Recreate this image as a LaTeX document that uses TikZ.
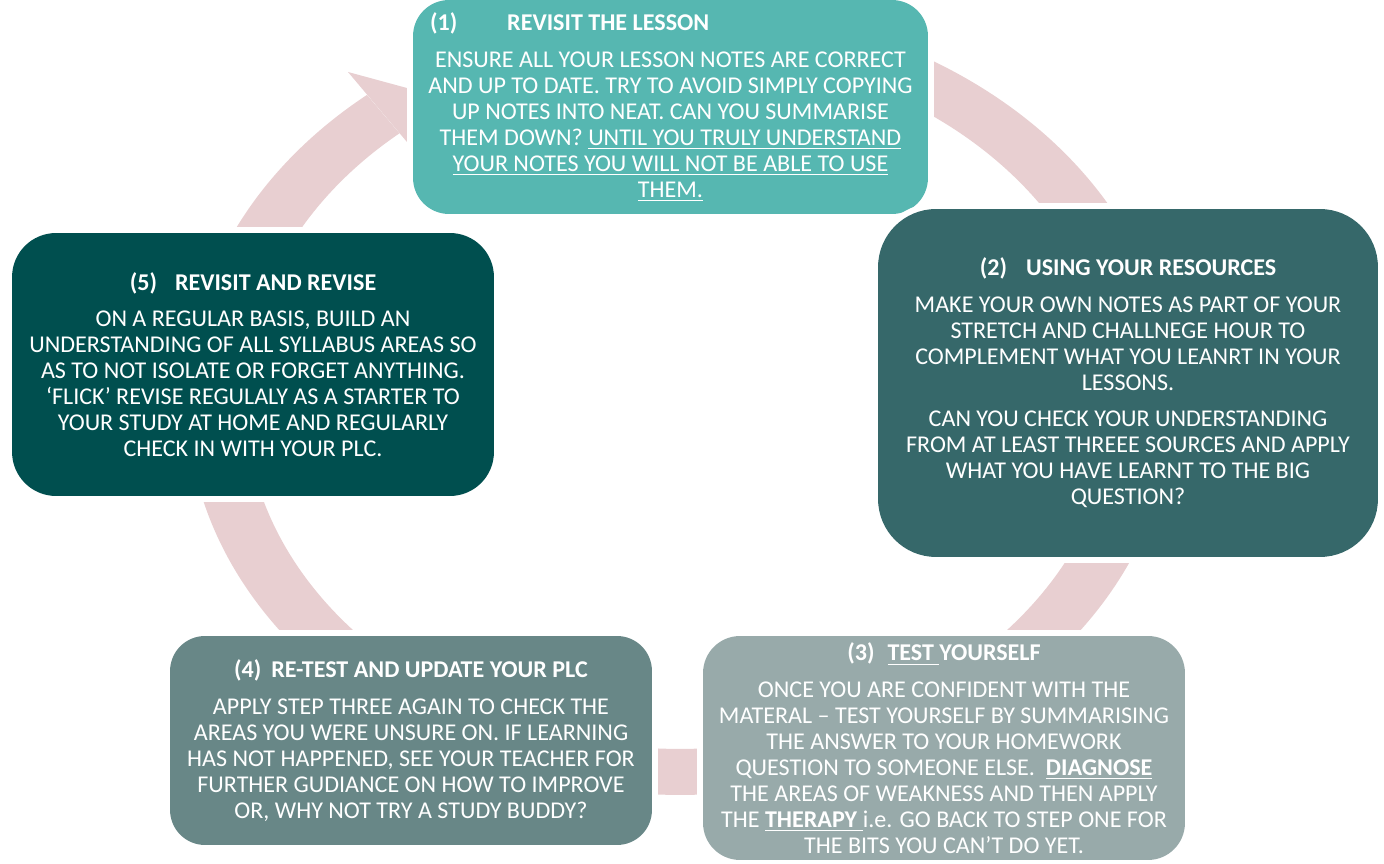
\documentclass[tikz,border=0pt]{standalone}
\usepackage{fontspec}
\setmainfont{Carlito}
\newsavebox{\ulbox}
\newcommand{\myul}[1]{\sbox{\ulbox}{#1}\rlap{\rule[-2.4pt]{\wd\ulbox}{0.6pt}}\usebox{\ulbox}}
\definecolor{cA}{HTML}{56B7B1}
\definecolor{cB}{HTML}{36686A}
\definecolor{cC}{HTML}{98AAAA}
\definecolor{cD}{HTML}{688787}
\definecolor{cE}{HTML}{004F4F}
\definecolor{ringc}{HTML}{E8CFD1}
\begin{document}
\begin{tikzpicture}[x=0.02cm,y=-0.02cm,
  box/.style={rectangle, inner sep=0pt, text=white, align=center,
    font=\fontsize{13.7}{14.8}\selectfont,
    preaction={draw=white, line width=0.24cm}}]
\useasboundingbox (0,0) rectangle (1384,864);
% cycle ring
\fill[ringc, even odd rule] (680,400) ellipse [x radius=9.86cm, y radius=7.9cm]
                             (680,400) ellipse [x radius=8.7cm, y radius=6.98cm];
\fill[white] (270,-20) -- (420,157.4) -- (680,157.4) -- (680,-20) -- cycle;
\fill[ringc] (348,72) -- (440,97) -- (407,142) -- cycle;
% boxes
\node[box, fill=cA, rounded corners=0.72cm, minimum width=10.3cm, minimum height=4.28cm] (b1) at (670.5,107)
{\makebox[9.62cm][l]{\textbf{(1)\hspace{1.0cm}REVISIT THE LESSON}}\\[6pt]
ENSURE ALL YOUR LESSON NOTES ARE CORRECT\\
AND UP TO DATE. TRY TO AVOID SIMPLY COPYING\\
UP NOTES INTO NEAT. CAN YOU SUMMARISE\\
THEM DOWN? \myul{UNTIL YOU TRULY UNDERSTAND}\\
\myul{YOUR NOTES YOU WILL NOT BE ABLE TO USE}\\
\myul{THEM.}};
\node[box, fill=cB, rounded corners=1.16cm, minimum width=10cm, minimum height=6.96cm] (b2) at (1128,383)
{\textbf{(2)\hspace{0.38cm}USING YOUR RESOURCES}\\[6pt]
MAKE YOUR OWN NOTES AS PART OF YOUR\\
STRETCH AND CHALLNEGE HOUR TO\\
COMPLEMENT WHAT YOU LEANRT IN YOUR\\
LESSONS.\\[6pt]
CAN YOU CHECK YOUR UNDERSTANDING\\
FROM AT LEAST THREEE SOURCES AND APPLY\\
WHAT YOU HAVE LEARNT TO THE BIG\\
QUESTION?};
\node[box, fill=cC, rounded corners=0.74cm, minimum width=9.64cm, minimum height=4.48cm] (b3) at (944,748)
{\textbf{(3)\hspace{0.26cm}\myul{TEST }YOURSELF}\\[6pt]
ONCE YOU ARE CONFIDENT WITH THE\\
MATERAL – TEST YOURSELF BY SUMMARISING\\
THE ANSWER TO YOUR HOMEWORK\\
QUESTION TO SOMEONE ELSE.\ \ \myul{\textbf{DIAGNOSE}}\\
THE AREAS OF WEAKNESS AND THEN APPLY\\
THE \myul{\textbf{THERAPY }}i.e. GO BACK TO STEP ONE FOR\\
THE BITS YOU CAN’T DO YET.};
\node[box, fill=cD, rounded corners=0.7cm, minimum width=9.64cm, minimum height=4.18cm] (b4) at (411,740.5)
{\textbf{(4)\hspace{0.2cm}RE-TEST AND UPDATE YOUR PLC}\\[6pt]
APPLY STEP THREE AGAIN TO CHECK THE\\
AREAS YOU WERE UNSURE ON. IF LEARNING\\
HAS NOT HAPPENED, SEE YOUR TEACHER FOR\\
FURTHER GUDIANCE ON HOW TO IMPROVE\\
OR, WHY NOT TRY A STUDY BUDDY?};
\node[box, fill=cE, rounded corners=0.88cm, minimum width=9.64cm, minimum height=5.26cm] (b5) at (253,364.5)
{\textbf{(5)\hspace{0.36cm}REVISIT AND REVISE}\\[6pt]
ON A REGULAR BASIS, BUILD AN\\
UNDERSTANDING OF ALL SYLLABUS AREAS SO\\
AS TO NOT ISOLATE OR FORGET ANYTHING.\\
‘FLICK’ REVISE REGULALY AS A STARTER TO\\
YOUR STUDY AT HOME AND REGULARLY\\
CHECK IN WITH YOUR PLC.};
\end{tikzpicture}
\end{document}
